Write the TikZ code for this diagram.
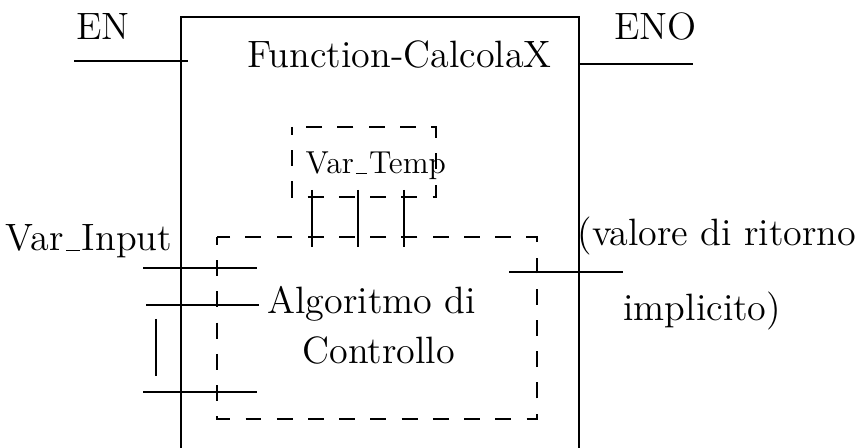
\documentclass[tikz,border=0pt]{standalone}
\usepackage{tikz}
\usetikzlibrary{positioning, calc}

% short underscore as in the OT1 encoding
\newcommand{\usc}{\leavevmode\kern.06em\vbox{\hrule width.36em}\kern.06em}

\begin{document}
\begin{tikzpicture}[
  x=0.378pt, y=-0.378pt,
  every node/.style={font=\Large, inner sep=0pt},
  lbl/.style={anchor=base west},
  fbox/.style={draw, thick},
  dbox/.style={draw, thin, dash pattern=on 6pt off 5.8pt, dash phase=3pt},
  pin/.style={draw, semithick},
  wire/.style={draw, thin}
]
\useasboundingbox (0,0) rectangle (859,448);
\clip (0,0) rectangle (859,448);

% Function block
\coordinate (fbnw) at (181,17);
\coordinate (fbse) at (579,470);
\draw[fbox] (fbnw) rectangle (fbse);
\node[lbl] (title) at (247,68) {Function-CalcolaX};

% EN / ENO
\node[lbl] (en) at (76,40) {EN};
\node[lbl] (eno) at (614,40) {ENO};
\coordinate (enA) at (74,61);   \coordinate (enB) at (188,61);
\coordinate (enoA) at (579,64); \coordinate (enoB) at (693,64);
\draw[pin] (enA) -- (enB);
\draw[pin] (enoA) -- (enoB);

% Temporary variables
\coordinate (tmpnw) at (292,127);
\coordinate (tmpse) at (436,197);
\draw[dbox] (tmpnw) rectangle (tmpse);
\node[lbl, font=\large] (tmp) at (305,174) {Var\usc Temp};
\foreach \px in {312,358,404}
  \draw[wire] (\px,190) -- (\px,247);

% Control algorithm
\coordinate (algnw) at (217,237);
\coordinate (algse) at (537,419);
\draw[dbox] (algnw) rectangle (algse);
\node[lbl] (alg1) at (267,314) {Algoritmo di};
\node[lbl] (alg2) at (302,364) {Controllo};

% Inputs
\node[lbl] (vin) at (5,251) {Var\usc Input};
\foreach \py/\xa/\xb in {268/143/257, 305/146/259, 392/143/257}
  \draw[wire] (\xa,\py) -- (\xb,\py);
\draw[pin] (156,319) -- (156,376);

% Output
\draw[wire] (509,272) -- (623,272);
\node[lbl] (ret1) at (577,246) {(valore di ritorno};
\node[lbl] (ret2) at (623,321) {implicito)};

\end{tikzpicture}
\end{document}
